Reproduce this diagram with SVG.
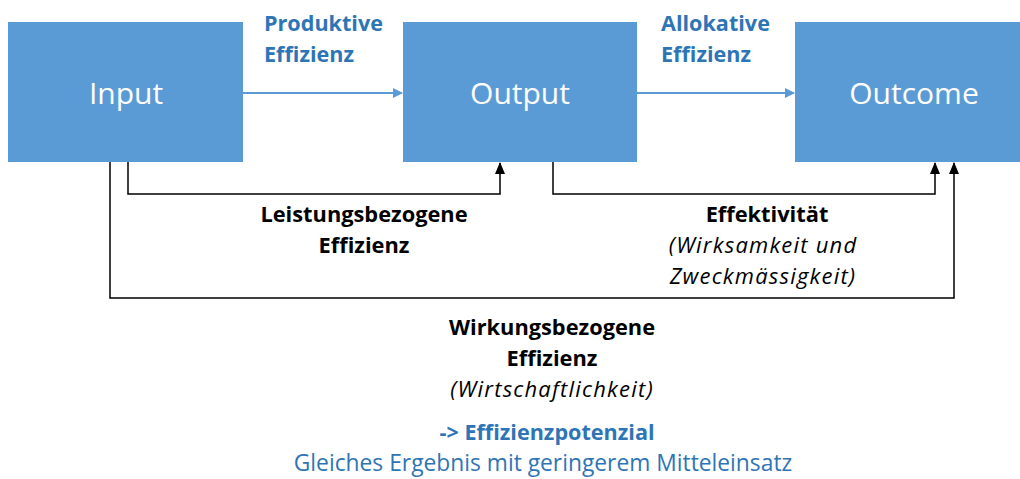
<svg xmlns="http://www.w3.org/2000/svg" width="1020" height="479" viewBox="0 0 1020 479">
<style>
text{font-family:"Open Sans","Noto Sans",sans-serif;font-variant-ligatures:none}
.box{fill:#5B9BD5}
.nt{font-size:30px;fill:#fff;text-anchor:middle}
.bl{font-size:21.6px;font-weight:bold;fill:#2E75B6}
.bk{font-size:21.8px;font-weight:bold;fill:#000;text-anchor:middle}
.it{font-size:22px;font-style:italic;fill:#000;text-anchor:middle;letter-spacing:1.2px}
.bn{font-size:22.8px;fill:#2E75B6;text-anchor:middle}
.ca{fill:none;stroke:#5B9BD5;stroke-width:2}
.cb{fill:none;stroke:#000;stroke-width:1.5}
</style>
<defs>
<marker id="ab" markerWidth="10" markerHeight="10" refX="9" refY="5" orient="auto" markerUnits="userSpaceOnUse"><path d="M0,0 L10,5 L0,10 Z" fill="#5B9BD5"/></marker>
<marker id="ak" markerWidth="12" markerHeight="10" refX="11" refY="5" orient="auto" markerUnits="userSpaceOnUse"><path d="M0,0 L12,5 L0,10 Z" fill="#000"/></marker>
</defs>
<g id="input"><rect class="box" x="8" y="22" width="235" height="140"/><text class="nt" x="126" y="104">Input</text></g>
<g id="output"><rect class="box" x="403" y="22" width="234" height="140"/><text class="nt" x="520" y="104">Output</text></g>
<g id="outcome"><rect class="box" x="795" y="22" width="235" height="140"/><text class="nt" x="914" y="104">Outcome</text></g>
<g id="connectors">
<path class="ca" d="M243,93 H402" marker-end="url(#ab)"/>
<path class="ca" d="M637,93 H794" marker-end="url(#ab)"/>
<path class="cb" d="M128,162 V194 H500 V163" marker-end="url(#ak)"/>
<path class="cb" d="M553,162 V194 H935 V163" marker-end="url(#ak)"/>
<path class="cb" d="M110,162 V298 H954 V163" marker-end="url(#ak)"/>
</g>
<g id="labels">
<text class="bl" x="264" y="31">Produktive</text>
<text class="bl" x="264" y="62">Effizienz</text>
<text class="bl" x="661" y="31">Allokative</text>
<text class="bl" x="661" y="62">Effizienz</text>
<text class="bk" x="364" y="222">Leistungsbezogene</text>
<text class="bk" x="364" y="253">Effizienz</text>
<text class="bk" x="767" y="222">Effektivität</text>
<text class="it" x="763" y="253">(Wirksamkeit und</text>
<text class="it" x="763" y="284">Zweckmässigkeit)</text>
<text class="bk" x="552" y="335">Wirkungsbezogene</text>
<text class="bk" x="552" y="366">Effizienz</text>
<text class="it" x="552" y="397">(Wirtschaftlichkeit)</text>
<text class="bl" x="547" y="440" text-anchor="middle">-&gt; Effizienzpotenzial</text>
<text class="bn" x="543" y="471">Gleiches Ergebnis mit geringerem Mitteleinsatz</text>
</g>
</svg>
